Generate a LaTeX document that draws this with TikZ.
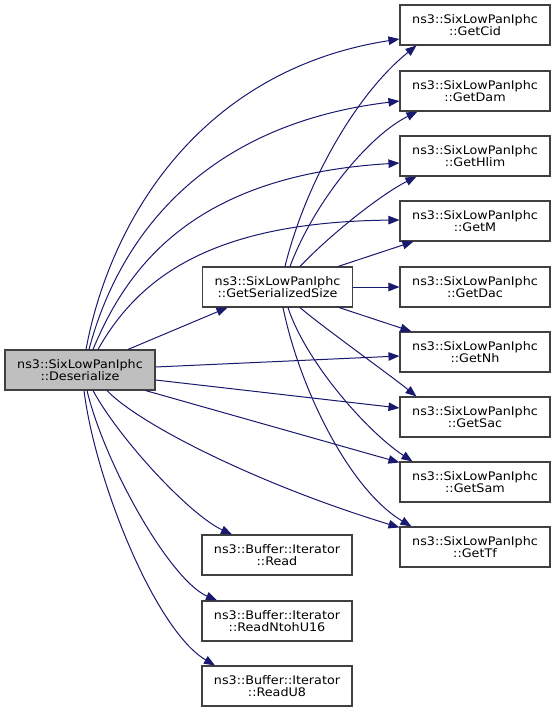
\documentclass[tikz,border=0pt]{standalone}
\usepackage{fontspec}
\setmainfont[FakeStretch=1.08]{DejaVu Sans}
\usetikzlibrary{arrows.meta,calc}
\definecolor{edgecol}{HTML}{191970}
\definecolor{boxborder}{HTML}{404040}
\definecolor{rootfill}{HTML}{BFBFBF}
\begin{document}
\begin{tikzpicture}[x=1pt,y=-1pt,
  box/.style={draw=boxborder, fill=white, minimum width=150pt, minimum height=40pt,
    inner sep=0pt, align=center, line width=1.1pt,
    font=\fontsize{11.8}{11.8}\selectfont},
  edge/.style={draw=edgecol, line width=1pt, -{Triangle[length=11pt,width=8.5pt]}}]
\path[use as bounding box, fill=white] (0,0) rectangle (555,712);

\node[box, fill=rootfill] (des) at (80,370) {ns3::SixLowPanIphc\\::Deserialize};
\node[box] (gss) at (277.5,287) {ns3::SixLowPanIphc\\::GetSerializedSize};
\node[box] (cid) at (475,25) {ns3::SixLowPanIphc\\::GetCid};
\node[box] (dam) at (475,91) {ns3::SixLowPanIphc\\::GetDam};
\node[box] (hlim) at (475,156) {ns3::SixLowPanIphc\\::GetHlim};
\node[box] (m) at (475,221) {ns3::SixLowPanIphc\\::GetM};
\node[box] (dac) at (475,287) {ns3::SixLowPanIphc\\::GetDac};
\node[box] (nh) at (475,352) {ns3::SixLowPanIphc\\::GetNh};
\node[box] (sac) at (475,417) {ns3::SixLowPanIphc\\::GetSac};
\node[box] (sam) at (475,482) {ns3::SixLowPanIphc\\::GetSam};
\node[box] (tf) at (475,547) {ns3::SixLowPanIphc\\::GetTf};
\node[box] (rd) at (277,555) {ns3::Buffer::Iterator\\::Read};
\node[box] (rd16) at (277,621) {ns3::Buffer::Iterator\\::ReadNtohU16};
\node[box] (rd8) at (277,686) {ns3::Buffer::Iterator\\::ReadU8};

% Deserialize -> ...
\draw[edge] ([shift={(6,0)}]des.north) .. controls (110,220) and (200,70) .. ([shift={(0,14)}]cid.west);
\draw[edge] ([shift={(9,0)}]des.north) .. controls (118,240) and (200,125) .. ([shift={(0,10)}]dam.west);
\draw[edge] ([shift={(13,0)}]des.north) .. controls (130,260) and (200,175) .. ([shift={(0,7)}]hlim.west);
\draw[edge] ([shift={(18,0)}]des.north) .. controls (140,275) and (215,222) .. ([shift={(0,-1)}]m.west);
\draw[edge] ([shift={(48,0)}]des.north) -- ([shift={(-50,0)}]gss.south);
\draw[edge] ([shift={(0,-3)}]des.east) -- ([shift={(0,4)}]nh.west);
\draw[edge] ([shift={(0,10)}]des.east) -- ([shift={(0,-9)}]sac.west);
\draw[edge] ([shift={(-10,0)}]des.south east) -- ([shift={(0,1)}]sam.north west);
\draw[edge] ([shift={(27,0)}]des.south) .. controls (140,425) and (260,485) .. ([shift={(0,1)}]tf.north west);
\draw[edge] ([shift={(13,0)}]des.south) .. controls (120,440) and (190,515) .. ([shift={(-45,0)}]rd.north);
\draw[edge] ([shift={(7,0)}]des.south) .. controls (105,465) and (170,580) .. ([shift={(-60,0)}]rd16.north);
\draw[edge] ([shift={(4,0)}]des.south) .. controls (95,480) and (155,630) .. ([shift={(-62,0)}]rd8.north);

% GetSerializedSize -> ...
\draw[edge] ([shift={(7.5,0)}]gss.north) .. controls (305,185) and (355,95) .. ([shift={(17,0)}]cid.south west);
\draw[edge] ([shift={(12.5,0)}]gss.north) .. controls (315,200) and (370,135) .. ([shift={(18,0)}]dam.south west);
\draw[edge] ([shift={(22.5,0)}]gss.north) .. controls (330,235) and (380,195) .. ([shift={(17,0)}]hlim.south west);
\draw[edge] ([shift={(-15,0)}]gss.north east) -- ([shift={(14,0)}]m.south west);
\draw[edge] (gss.east) -- (dac.west);
\draw[edge] ([shift={(-14,0)}]gss.south east) -- ([shift={(12,0)}]nh.north west);
\draw[edge] ([shift={(22.5,0)}]gss.south) .. controls (320,325) and (390,375) .. ([shift={(17,0)}]sac.north west);
\draw[edge] ([shift={(10.5,0)}]gss.south) .. controls (305,360) and (365,430) .. ([shift={(13,0)}]sam.north west);
\draw[edge] ([shift={(5.5,0)}]gss.south) .. controls (300,390) and (350,490) .. ([shift={(12,0)}]tf.north west);
\end{tikzpicture}
\end{document}
